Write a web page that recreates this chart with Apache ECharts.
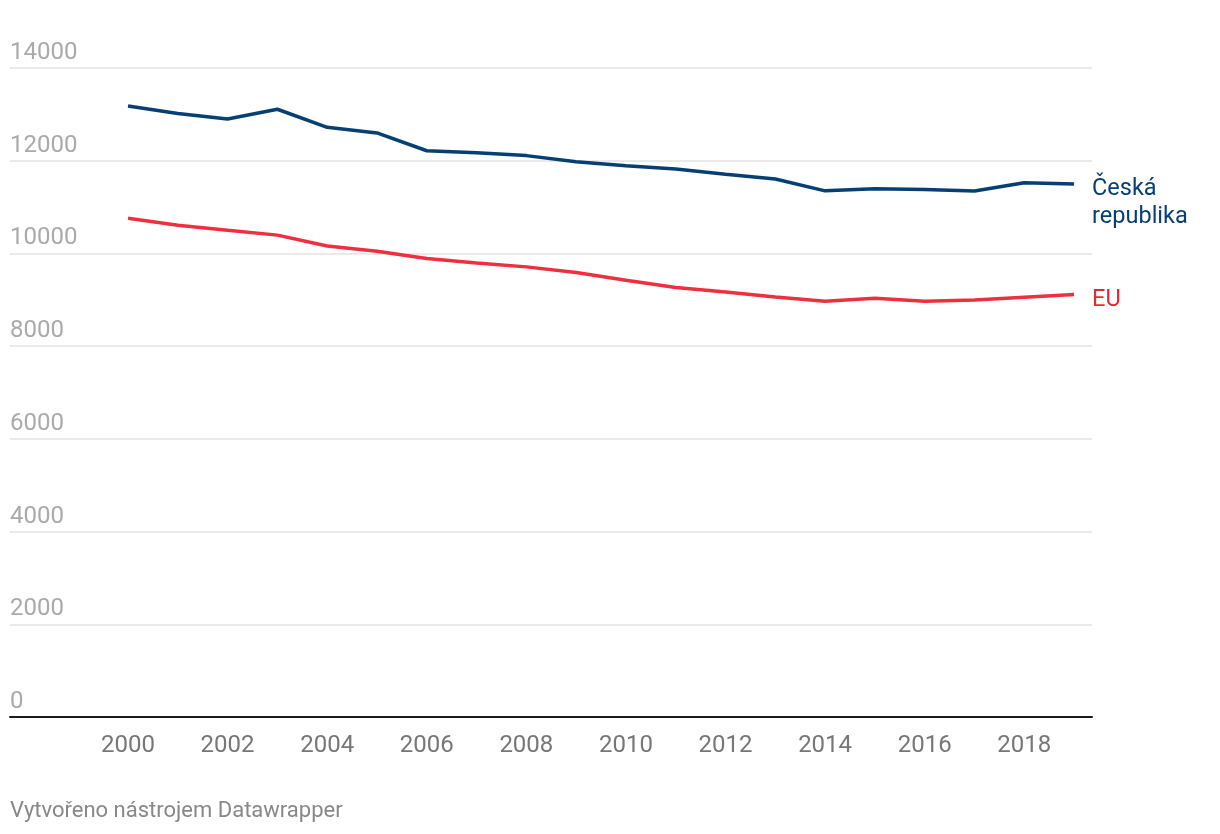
<!DOCTYPE html>
<html><head><meta charset="utf-8">
<script src="https://cdn.jsdelivr.net/npm/echarts@6/dist/echarts.min.js"></script>
<style>html,body{margin:0;padding:0;background:#fff}#c{width:1220px;height:834px}</style>
</head><body><div id="c"></div>
<script>
const years = [2000,2001,2002,2003,2004,2005,2006,2007,2008,2009,2010,2011,2012,2013,2014,2015,2016,2017,2018,2019];
const cz = [13180,13020,12900,13110,12720,12600,12215,12170,12110,11980,11890,11820,11710,11605,11350,11395,11380,11345,11525,11500];
const eu = [10760,10610,10500,10395,10160,10045,9890,9795,9710,9590,9420,9265,9170,9060,8970,9035,8970,8998,9056,9115];
const yTicks = [0,2000,4000,6000,8000,10000,12000,14000];
const xTicks = [2000,2002,2004,2006,2008,2010,2012,2014,2016,2018];
const czName = 'Česká\nrepublika';
const euName = 'EU';

const chart = echarts.init(document.getElementById('c'));
const font = 'Roboto';
chart.setOption({
  animation: false,
  grid: {left: 10, right: 128, top: 68, bottom: 117, containLabel: false},
  xAxis: {
    type: 'value', min: 1997.63, max: 2019.36,
    axisLine: {show: true, onZero: false, lineStyle: {color: '#1a1a1a', width: 2}},
    axisTick: {show: false},
    splitLine: {show: false},
    axisLabel: {customValues: xTicks, margin: 17, color: '#777', fontSize: 24, fontFamily: font,
      formatter: v => String(v)}
  },
  yAxis: {
    type: 'value', min: 0, max: 14000, interval: 2000,
    axisLine: {show: false}, axisTick: {show: false},
    splitLine: {lineStyle: {color: '#e3e3e3', width: 1.5}},
    axisLabel: {inside: true, margin: 0, verticalAlign: 'bottom', padding: [0,0,3,0],
      color: '#aaa', fontSize: 24, fontFamily: font,
      customValues: yTicks.slice(), formatter: v => String(v)}
  },
  series: [
    {type: 'line', name: czName, data: years.map((y,i)=>[y, cz[i]]), symbol: 'none',
      lineStyle: {color: '#063f73', width: 3.5}, color: '#063f73',
      endLabel: {show: true, formatter: czName, color: '#063f73', fontSize: 23.5, fontFamily: font,
        lineHeight: 28, distance: 18, offset: [0, 19]}},
    {type: 'line', name: euName, data: years.map((y,i)=>[y, eu[i]]), symbol: 'none',
      lineStyle: {color: '#ee2f3f', width: 3.5}, color: '#ee2f3f',
      endLabel: {show: true, formatter: euName, color: '#e02a3a', fontSize: 23.5, fontFamily: font,
        distance: 18, offset: [0, 6]}}
  ],
  graphic: [{type: 'text', left: 10, top: 800,
    style: {text: 'Vytvořeno nástrojem Datawrapper', fill: '#888', fontSize: 22, fontFamily: font}}]
});
</script></body></html>
